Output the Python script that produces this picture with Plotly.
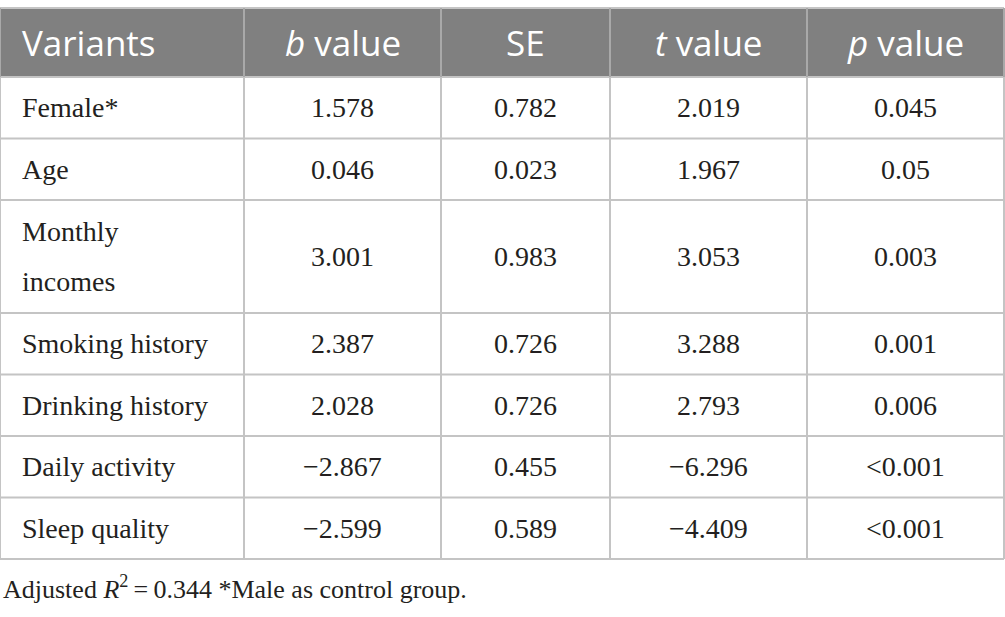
import plotly.graph_objects as go

headers = ["Variants", "<i>b</i> value", "SE", "<i>t</i> value", "<i>p</i> value"]
variants = ["Female*", "Age", "Monthly<br>incomes", "Smoking history",
            "Drinking history", "Daily activity", "Sleep quality"]
b_values = ["1.578", "0.046", "3.001", "2.387", "2.028", "\u22122.867", "\u22122.599"]
se_values = ["0.782", "0.023", "0.983", "0.726", "0.726", "0.455", "0.589"]
t_values = ["2.019", "1.967", "3.053", "3.288", "2.793", "\u22126.296", "\u22124.409"]
p_values = ["0.045", "0.05", "0.003", "0.001", "0.006", "<0.001", "<0.001"]
footnote = "Adjusted <i>R</i><sup>2</sup>\u2009=\u20090.344 *Male as control group."

# ---- layout constants (pixels) ----
W, H = 1005, 617
col_widths = [244, 197, 169, 197, 197]
table_top = 8
header_h = 69
row_h = 61.5
row_h_two = 113
line_gap = 50
pad_left = 20
line_col = "#c4c4c4"
header_line_col = "#a9a9a9"
header_fill = "#808080"
text_col = "#231f20"
head_font = dict(family="Open Sans", size=35, color="white")
body_font = dict(family="Liberation Serif", size=28, color=text_col)
foot_font = dict(family="Liberation Serif", size=26, color=text_col)

columns = [variants, b_values, se_values, t_values, p_values]

# column boundaries
xb = [0]
for w in col_widths:
    xb.append(xb[-1] + w)
# row boundaries
yb = [table_top, table_top + header_h]
for lab in variants:
    yb.append(yb[-1] + (row_h_two if "<br>" in lab else row_h))
table_bottom = yb[-1]

fig = go.Figure()
shapes = []
annotations = []

# header fill
shapes.append(dict(type="rect", xref="x", yref="y", x0=xb[0], x1=xb[-1],
                   y0=yb[0], y1=yb[1], fillcolor=header_fill,
                   line=dict(width=0), layer="below"))

# horizontal lines
for y in yb:
    shapes.append(dict(type="line", xref="x", yref="y", x0=xb[0], x1=xb[-1],
                       y0=y, y1=y, line=dict(color=line_col, width=2)))
# vertical lines
for x in xb:
    shapes.append(dict(type="line", xref="x", yref="y", x0=x, x1=x,
                       y0=yb[0], y1=yb[1],
                       line=dict(color=header_line_col, width=2)))
    shapes.append(dict(type="line", xref="x", yref="y", x0=x, x1=x,
                       y0=yb[1], y1=table_bottom,
                       line=dict(color=line_col, width=2)))

def cell_x(j):
    if j == 0:
        return xb[0] + pad_left, "left"
    return (xb[j] + xb[j + 1]) / 2, "center"

# header text
for j, h in enumerate(headers):
    x, anc = cell_x(j)
    annotations.append(dict(x=x, y=(yb[0] + yb[1]) / 2, xref="x", yref="y",
                            text=h, showarrow=False, xanchor=anc,
                            yanchor="middle", font=head_font))

# body text
for j, col in enumerate(columns):
    x, anc = cell_x(j)
    for i, val in enumerate(col):
        yc = (yb[i + 1] + yb[i + 2]) / 2
        parts = val.split("<br>")
        n = len(parts)
        for k, part in enumerate(parts):
            y = yc + (k - (n - 1) / 2) * line_gap
            annotations.append(dict(x=x, y=y, xref="x", yref="y",
                                    text=part, showarrow=False, xanchor=anc,
                                    yanchor="middle", font=body_font))

# footnote
annotations.append(dict(x=xb[0] + 1, y=table_bottom + 28, xref="x", yref="y",
                        text=footnote, showarrow=False, xanchor="left",
                        yanchor="middle", font=foot_font))

fig.update_layout(
    width=W, height=H,
    margin=dict(l=0, r=0, t=0, b=0),
    paper_bgcolor="white", plot_bgcolor="white",
    shapes=shapes, annotations=annotations,
    xaxis=dict(range=[0, W], visible=False, fixedrange=True),
    yaxis=dict(range=[H, 0], visible=False, fixedrange=True),
    showlegend=False,
)

fig.write_html("out.html", config={"displayModeBar": False},
               post_script="document.body.style.margin='0px';document.body.style.overflow='hidden';")
